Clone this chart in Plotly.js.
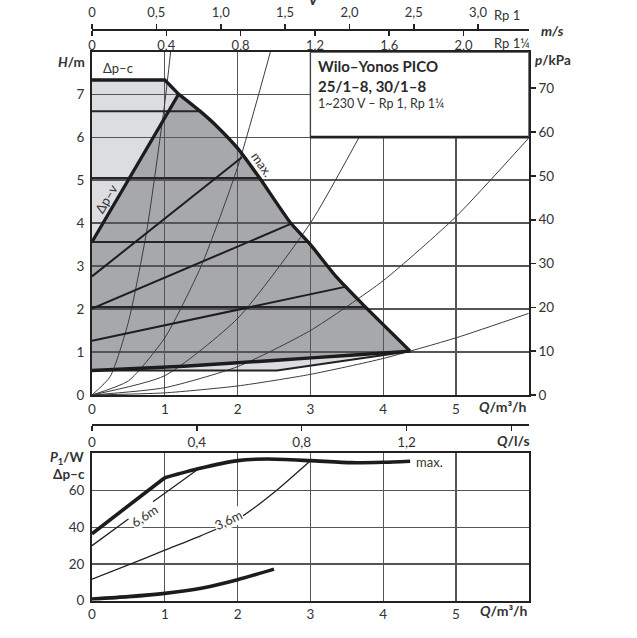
<!DOCTYPE html>
<html><head><meta charset="utf-8">
<script src="https://cdn.plot.ly/plotly-3.0.1.min.js"></script>
<style>html,body{margin:0;padding:0;background:#fff;}#chart{width:637px;height:638px;}</style>
</head><body><div id="chart"></div>
<script>
// ---------------- data ----------------
const qTicks = [0, 1, 2, 3, 4, 5];
const hTicks = [0, 1, 2, 3, 4, 5, 6, 7];
const kpaTicks = [0, 10, 20, 30, 40, 50, 60, 70];
const vRp1Ticks = [0, 0.5, 1.0, 1.5, 2.0, 2.5, 3.0];
const vRp1Labels = ['0', '0,5', '1,0', '1,5', '2,0', '2,5', '3,0'];
const vRp114Ticks = [0, 0.4, 0.8, 1.2, 1.6, 2.0];
const vRp114Labels = ['0', '0,4', '0,8', '1,2', '1,6', '2,0'];
const qlsTicks = [0, 0.4, 0.8, 1.2];
const qlsLabels = ['0', '0,4', '0,8', '1,2'];
const pTicks = [0, 20, 40, 60];

// upper chart: H/m vs Q/m3/h
const topQ = [0, 1.0, 1.19];
const topH = [7.33, 7.33, 7.0];
const maxQ = [1.19, 1.48, 1.71, 2.01, 2.31, 2.72, 2.99, 3.36, 3.73, 4.37];
const maxH = [7.0, 6.61, 6.26, 5.72, 5.03, 4.02, 3.52, 2.74, 2.09, 1.02];
const minQ = [0, 1.26, 2.54, 3.5, 4.37];
const minH = [0.57, 0.67, 0.81, 0.92, 1.02];
const lowQ = [0, 2.54, 4.37];
const lowH = [0.57, 0.57, 1.02];
const dpvMainQ = [0, 1.19];
const dpvMainH = [3.56, 7.0];
const dpvStartH = [2.76, 2.01, 1.26];
const dpvEndQ = [2.06, 2.73, 3.46];
const dpvEndH = [5.53, 3.98, 2.51];
const dpcH = [6.6, 5.05, 3.56, 2.05];
const dpcEndQ = [1.47, 2.3, 2.99, 3.74];
// system curves
const sys1Q = [0, 0.25, 0.5, 0.75, 1.0, 1.08];
const sys1H = [0, 0.43, 1.7, 3.8, 6.8, 7.98];
const sys2Q = [0, 0.5, 1.0, 1.5, 2.0, 2.45];
const sys2H = [0, 0.33, 1.33, 3.0, 5.3, 7.98];
const sys3Q = [0, 1.0, 2.0, 3.0, 3.67];
const sys3H = [0, 0.45, 1.78, 4.0, 6.0];
const sys4Q = [0, 1, 2, 3, 4, 5, 6];
const sys4H = [0, 0.17, 0.66, 1.5, 2.66, 4.15, 5.98];
const sys5Q = [0, 1, 2, 3, 4, 5, 6];
const sys5H = [0, 0.05, 0.21, 0.48, 0.85, 1.33, 1.9];

// lower chart: P1/W vs Q/m3/h
const p1MaxQ = [0, 0.5, 1.0, 1.47, 2.0, 2.41, 3.0, 3.56, 4.0, 4.37];
const p1MaxP = [36.5, 52, 67, 72, 76.3, 77.2, 76.3, 75.2, 75.4, 76];
const p66Q = [0, 0.5, 1.0, 1.47];
const p66P = [30, 44.5, 58.5, 72];
const p36Q = [0, 0.5, 1, 1.5, 2, 2.5, 3];
const p36P = [11.7, 19.5, 27.5, 35.5, 44.4, 59, 76.3];
const pMinQ = [0, 0.5, 1, 1.5, 2, 2.5];
const pMinP = [0.9, 2.2, 4.0, 6.8, 11.4, 17.2];

// ---------------- helpers ----------------
const W = 637, H = 638;
const X = p => p / W;
const Y = p => 1 - p / H;
const FONT = 'Lato, "Open Sans", sans-serif';
const TXT = '#333';
const DARK = '#1c1c1c';

function line(x, y, width, color, xa, ya, shape, sm) {
  return {x: x, y: y, xaxis: xa || 'x', yaxis: ya || 'y', mode: 'lines',
    line: {width: width, color: color, shape: shape || 'linear', smoothing: sm || 0.6},
    hoverinfo: 'skip', showlegend: false, cliponaxis: true};
}
function dummy(xa, ya) {
  return {x: [0], y: [0], xaxis: xa, yaxis: ya, mode: 'markers',
    marker: {opacity: 0, size: 1}, hoverinfo: 'skip', showlegend: false};
}
function pathOf(xs, ys) {
  return 'M' + xs.map((v, i) => v + ',' + ys[i]).join('L') + 'Z';
}
function rev(a) { return a.slice().reverse(); }

const traces = [dummy('x', 'y2'), dummy('x3', 'y'), dummy('x4', 'y'), dummy('x5', 'y3')];

// system curves
[[sys1Q, sys1H], [sys2Q, sys2H], [sys3Q, sys3H], [sys4Q, sys4H], [sys5Q, sys5H]].forEach(c => {
  traces.push(line(c[0], c[1], 1, '#3c3c3c', 'x', 'y', 'spline'));
});
// delta p-c lines
dpcH.forEach((h, i) => traces.push(line([0, dpcEndQ[i]], [h, h], 2, '#262626')));
// delta p-v lines
dpvStartH.forEach((h, i) => traces.push(line([0, dpvEndQ[i]], [h, dpvEndH[i]], 2, '#1e1e1e')));
traces.push(line(dpvMainQ, dpvMainH, 3.2, DARK));
traces.push(line(lowQ, lowH, 2, '#222'));
traces.push(line(minQ, minH, 3.4, DARK, 'x', 'y', 'spline'));
traces.push(line(topQ, topH, 3.4, DARK));
traces.push(line(maxQ, maxH, 3.4, DARK, 'x', 'y', 'spline', 0.5));

// lower chart
traces.push(line(p36Q, p36P, 1.3, '#222', 'x2', 'y3', 'spline'));
traces.push(line(p66Q, p66P, 1.3, '#222', 'x2', 'y3', 'spline'));
traces.push(line(p1MaxQ.slice(0, 3), p1MaxP.slice(0, 3), 3.6, DARK, 'x2', 'y3'));
traces.push(line(p1MaxQ.slice(2), p1MaxP.slice(2), 3.6, DARK, 'x2', 'y3', 'spline'));
traces.push(line(pMinQ, pMinP, 3.6, DARK, 'x2', 'y3', 'spline'));

// fill areas (below gridlines)
const lightX = [0].concat(topQ);
const lightY = [dpvMainH[0]].concat(topH);
const darkX = dpvMainQ.concat(maxQ.slice(1)).concat(rev(minQ));
const darkY = dpvMainH.concat(maxH.slice(1)).concat(rev(minH));
const sliverX = lowQ.concat(rev(minQ));
const sliverY = lowH.concat(rev(minH));

const shapes = [
  {type: 'path', xref: 'x', yref: 'y', path: pathOf(lightX, lightY), fillcolor: '#dcdde0', line: {width: 0}, layer: 'below'},
  {type: 'path', xref: 'x', yref: 'y', path: pathOf(darkX, darkY), fillcolor: '#a6a8ab', line: {width: 0}, layer: 'below'},
  {type: 'path', xref: 'x', yref: 'y', path: pathOf(sliverX, sliverY), fillcolor: '#dcdde0', line: {width: 0}, layer: 'below'},
  // info box
  {type: 'rect', xref: 'x', yref: 'y', x0: 3, x1: 6, y0: 6, y1: 7.98, fillcolor: '#fff', line: {width: 1.4, color: '#444'}, layer: 'above'},
  {type: 'line', xref: 'x', yref: 'y', x0: 3, x1: 6, y0: 6, y1: 6, line: {width: 2.6, color: '#222'}, layer: 'above'}
];

function ann(text, px, py, o) {
  o = o || {};
  return Object.assign({text: text, x: X(px), y: Y(py), xref: 'paper', yref: 'paper',
    showarrow: false, xanchor: 'center', yanchor: 'middle',
    font: {family: FONT, size: o.size || 13, color: o.color || TXT}}, o.extra || {});
}
const annotations = [
  ann('<b><i>v</i></b>', 313, -2, {size: 17}),
  ann('Rp 1', 492, 15, {size: 13, extra: {xanchor: 'left'}}),
  ann('<b><i>m/s</i></b>', 539, 30, {size: 14, extra: {xanchor: 'left'}}),
  ann('Rp 1¼', 492, 43, {size: 13, extra: {xanchor: 'left'}}),
  ann('<b><i>H</i>/m</b>', 87, 62, {size: 13.5, extra: {xanchor: 'right'}}),
  ann('<b><i>p</i>/kPa</b>', 533, 60, {size: 13.5, extra: {xanchor: 'left'}}),
  ann('<b>Wilo–Yonos PICO</b>', 316, 66, {size: 15, color: '#2a2a2a', extra: {xanchor: 'left'}}),
  ann('<b>25/1–8, 30/1–8</b>', 316, 86, {size: 15, color: '#2a2a2a', extra: {xanchor: 'left'}}),
  ann('1~230 V – Rp 1, Rp 1¼', 316, 104, {size: 12.5, extra: {xanchor: 'left'}}),
  ann('Δp–c', 118, 68, {size: 13}),
  ann('Δp–v', 106, 199, {size: 13, extra: {textangle: -60}}),
  ann('max.', 262, 164, {size: 13, extra: {textangle: 55}}),
  ann('<b><i>Q</i>/m³/h</b>', 529, 406, {size: 14, extra: {xanchor: 'right'}}),
  ann('<b><i>Q</i>/l/s</b>', 532, 440, {size: 14, extra: {xanchor: 'right'}}),
  ann('<b><i>P</i><sub>1</sub>/W</b>', 87, 458, {size: 13.5, extra: {xanchor: 'right'}}),
  ann('<b>Δp–c</b>', 87, 474, {size: 13.5, extra: {xanchor: 'right'}}),
  ann('max.', 414, 462, {size: 13, extra: {xanchor: 'left'}}),
  ann('6,6m', 144, 516, {size: 13, extra: {textangle: -34, bgcolor: '#fff', borderpad: 0}}),
  ann('3,6m', 228, 520, {size: 13, extra: {textangle: -25, bgcolor: '#fff', borderpad: 0}}),
  ann('<b><i>Q</i>/m³/h</b>', 530, 610, {size: 14, extra: {xanchor: 'right'}})
];

const dx = [X(92), X(528.8)];
const tickfont = {family: FONT, size: 13.5, color: TXT};
const grid = {showgrid: true, gridcolor: '#555', gridwidth: 1.2, zeroline: false};
const border = {showline: true, linecolor: '#222', linewidth: 2, mirror: true};

const layout = {
  width: W, height: H,
  margin: {l: 0, r: 0, t: 0, b: 0},
  paper_bgcolor: '#fff', plot_bgcolor: '#fff',
  showlegend: false,
  font: {family: FONT, color: TXT},
  xaxis: Object.assign({domain: dx, range: [0, 6], anchor: 'y', tickvals: qTicks, ticks: '', tickfont: tickfont, ticklabelstandoff: 1}, grid, border),
  yaxis: Object.assign({domain: [Y(395), Y(52)], range: [0, 7.98], anchor: 'x', tickvals: hTicks, ticks: '', tickfont: tickfont, ticklabelstandoff: 3}, grid, border),
  yaxis2: {overlaying: 'y', side: 'right', anchor: 'x', range: [0, 78.28], tickvals: kpaTicks, ticks: 'outside', ticklen: 6, tickwidth: 1.6, tickcolor: '#222', showgrid: false, zeroline: false, showline: false, tickfont: tickfont},
  xaxis3: {overlaying: 'x', anchor: 'free', position: Y(29.5), side: 'top', range: [0, 3.394], tickvals: vRp1Ticks, ticktext: vRp1Labels, ticks: 'outside', ticklen: 5, tickwidth: 1.6, tickcolor: '#222', showline: true, linecolor: '#222', linewidth: 2, showgrid: false, zeroline: false, tickfont: {family: FONT, size: 13, color: TXT}, ticklabelstandoff: 1},
  xaxis4: {overlaying: 'x', anchor: 'free', position: Y(29.5), side: 'bottom', range: [0, 2.351], tickvals: vRp114Ticks, ticktext: vRp114Labels, ticks: 'outside', ticklen: 5, tickwidth: 1.6, tickcolor: '#222', showline: false, showgrid: false, zeroline: false, tickfont: {family: FONT, size: 13, color: TXT}, ticklabelstandoff: -1},
  xaxis2: Object.assign({domain: dx, range: [0, 6], anchor: 'y3', tickvals: qTicks, ticks: '', tickfont: tickfont, ticklabelstandoff: 0}, grid, border),
  yaxis3: Object.assign({domain: [Y(600.7), Y(453.3)], range: [0, 80.3], anchor: 'x2', tickvals: pTicks, ticks: '', tickfont: tickfont, ticklabelstandoff: 3}, grid, border),
  xaxis5: {overlaying: 'x2', anchor: 'free', position: Y(425), side: 'bottom', range: [0, 1.6667], tickvals: qlsTicks, ticktext: qlsLabels, ticks: 'outside', ticklen: 5, tickwidth: 1.6, tickcolor: '#222',
    minor: {dtick: 0.4, tick0: 0, ticks: 'outside', ticklen: 5, tickwidth: 1.6, tickcolor: '#222', showgrid: false},
    showline: true, linecolor: '#222', linewidth: 2, showgrid: false, zeroline: false, tickfont: tickfont},
  shapes: shapes,
  annotations: annotations
};

Plotly.newPlot('chart', traces, layout, {staticPlot: true, displayModeBar: false});
</script></body></html>
